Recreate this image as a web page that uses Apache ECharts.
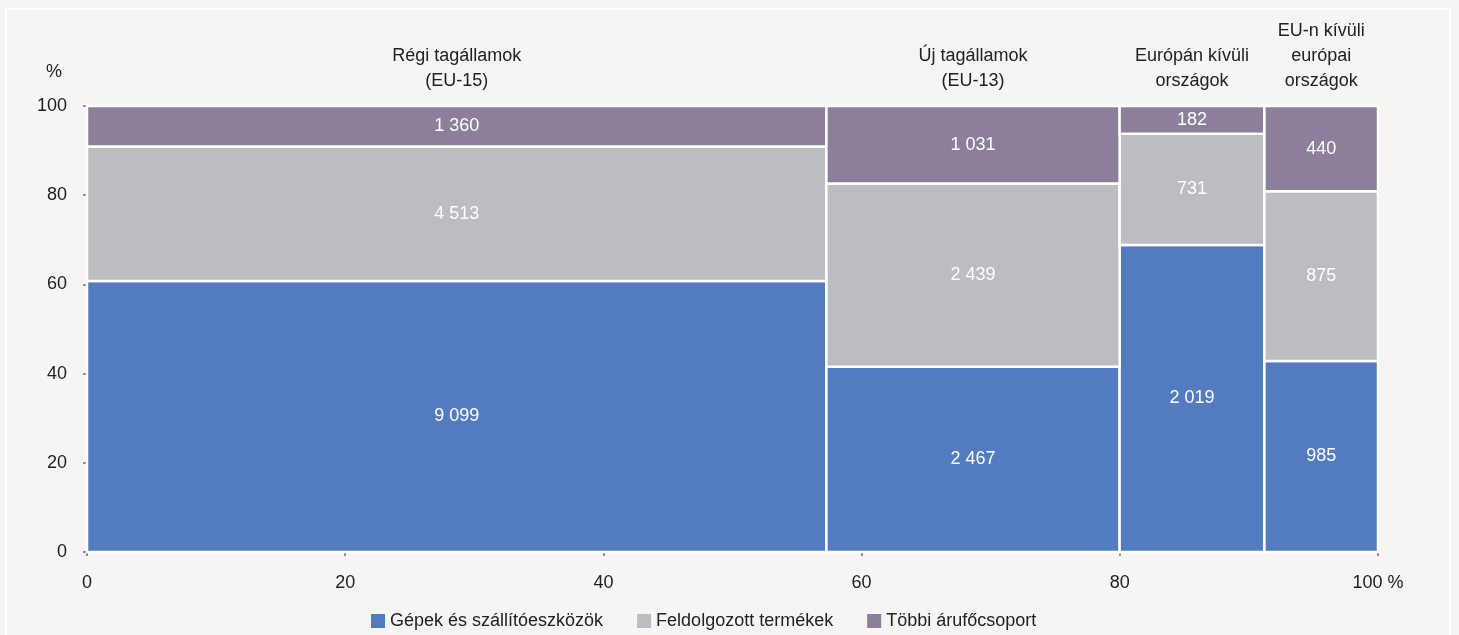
<!DOCTYPE html>
<html>
<head>
<meta charset="utf-8">
<script src="https://cdn.jsdelivr.net/npm/echarts@6/dist/echarts.min.js"></script>
<style>
  html, body { margin: 0; padding: 0; background: #f6f5f3; }
  #chart { width: 1459px; height: 635px; }
</style>
</head>
<body>
<div id="chart"></div>
<script>
// oszlopok (régiók)
const regions = ['Régi tagállamok\n(EU-15)', 'Új tagállamok\n(EU-13)', 'Európán kívüli\nországok', 'EU-n kívüli\neurópai\nországok']
// árufőcsoportok
const groups = ['Gépek és szállítóeszközök', 'Feldolgozott termékek', 'Többi árufőcsoport']
const machinery = [9099, 2467, 2019, 985]
const manufactured = [4513, 2439, 731, 875]
const others = [1360, 1031, 182, 440]
const xTicks = ['0', '20', '40', '60', '80', '100 %']
const colors = ['#527bc0', '#bcbdc1', '#8b7f9b']
const FONT = "'Liberation Sans Narrow', 'Arial Narrow', 'Liberation Sans', sans-serif"
const FS = 18

const seriesValues = [machinery, manufactured, others]
const totals = regions.map((r, i) => machinery[i] + manufactured[i] + others[i])
const grand = totals.reduce((a, b) => a + b, 0)

// oszlopok bal/jobb széle %-ban
let acc = 0
const colBounds = totals.map(t => {
  let x0 = acc
  acc += t / grand * 100
  return [x0, acc]
})

function fmt(v) {
  return String(v).replace(/\B(?=(\d{3})+(?!\d))/g, ' ')
}

// téglalapok adatai: [x0, x1, y0, y1, érték]
let cum = totals.map(() => 0)
const rectSeries = groups.map((g, s) => {
  const data = seriesValues[s].map((v, i) => {
    let y0 = cum[i] / totals[i] * 100
    cum[i] += v
    let y1 = cum[i] / totals[i] * 100
    return [colBounds[i][0], colBounds[i][1], y0, y1, v]
  })
  return {
    name: g,
    type: 'custom',
    itemStyle: { color: colors[s] },
    renderItem: (params, api) => {
      let p0 = api.coord([api.value(0), api.value(3)])
      let p1 = api.coord([api.value(1), api.value(2)])
      return {
        type: 'rect',
        shape: { x: p0[0], y: p0[1], width: p1[0] - p0[0], height: p1[1] - p0[1] },
        style: { fill: colors[s], stroke: '#ffffff', lineWidth: 2.5 },
        textContent: {
          style: { text: fmt(api.value(4)), fill: '#ffffff', fontSize: FS, fontFamily: FONT }
        },
        textConfig: { position: 'inside' }
      }
    },
    encode: { x: [0, 1], y: [2, 3] },
    data: data
  }
})

// régiónevek az oszlopok fölött
const headerSeries = {
  type: 'custom',
  silent: true,
  renderItem: (params, api) => {
    let i = params.dataIndex
    let p = api.coord([(colBounds[i][0] + colBounds[i][1]) / 2, 100])
    return {
      type: 'text',
      x: p[0],
      y: p[1] - 12,
      style: {
        text: regions[i],
        fill: '#222222',
        fontSize: FS,
        lineHeight: 25,
        fontFamily: FONT,
        align: 'center',
        verticalAlign: 'bottom'
      }
    }
  },
  encode: { x: 0, y: 1 },
  data: regions.map((r, i) => [(colBounds[i][0] + colBounds[i][1]) / 2, 100])
}

const chart = echarts.init(document.getElementById('chart'))
chart.setOption({
  backgroundColor: '#f6f5f3',
  animation: false,
  grid: { left: 87, right: 81, top: 106, bottom: 83 },
  graphic: [
    {
      type: 'rect',
      shape: { x: 6, y: 9, width: 1444, height: 700 },
      style: { fill: 'none', stroke: '#ffffff', lineWidth: 2 },
      silent: true
    },
    {
      type: 'text',
      left: 46,
      top: 63,
      style: { text: '%', fill: '#222222', fontSize: FS, fontFamily: FONT }
    }
  ],
  legend: {
    bottom: 0,
    left: 366,
    itemWidth: 14,
    itemHeight: 14,
    itemGap: 34,
    icon: 'rect',
    data: groups,
    textStyle: { color: '#222222', fontSize: FS, fontFamily: FONT }
  },
  xAxis: {
    type: 'value',
    min: 0,
    max: 100,
    interval: 20,
    axisLine: { show: true, lineStyle: { color: '#8c8c8c', width: 2 } },
    axisTick: { show: true, length: 4, lineStyle: { color: '#8c8c8c', width: 2 } },
    splitLine: { show: false },
    axisLabel: {
      margin: 22,
      color: '#222222',
      fontSize: FS,
      fontFamily: FONT,
      formatter: v => xTicks[v / 20]
    }
  },
  yAxis: {
    type: 'value',
    min: 0,
    max: 100,
    interval: 20,
    axisLine: { show: true, lineStyle: { color: '#8c8c8c', width: 2 } },
    axisTick: { show: true, length: 4, lineStyle: { color: '#8c8c8c', width: 2 } },
    splitLine: { show: false },
    axisLabel: { margin: 20, color: '#222222', fontSize: FS, fontFamily: FONT }
  },
  series: rectSeries.concat([headerSeries])
})
</script>
</body>
</html>
